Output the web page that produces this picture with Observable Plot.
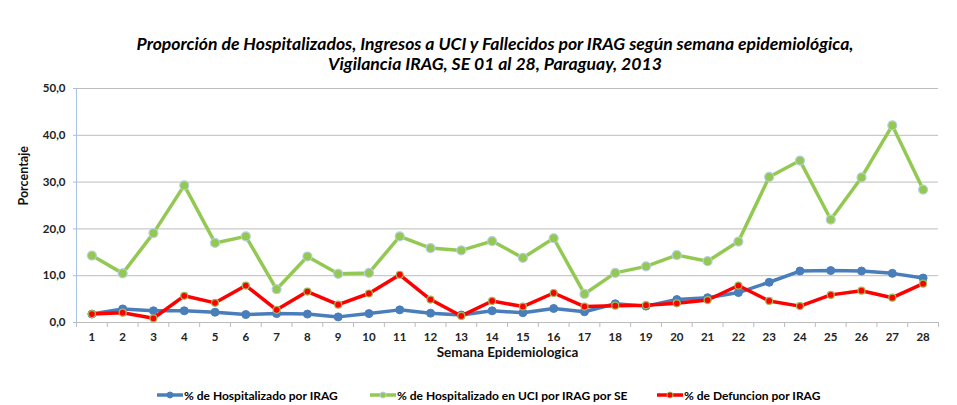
<!DOCTYPE html>
<html>
<head>
<meta charset="utf-8">
<script src="https://cdn.jsdelivr.net/npm/d3@7"></script>
<script src="https://cdn.jsdelivr.net/npm/@observablehq/plot@0.6"></script>
<style>
  html, body { margin: 0; padding: 0; background: #fff; }
  #wrap { position: relative; width: 957px; height: 405px; overflow: hidden; font-family: Lato, "DejaVu Sans", sans-serif; }
  #wrap svg.plot { position: absolute; left: 0; top: 0; }
  #title { position: absolute; left: 0; width: 990px; top: 34px; text-align: center; font-weight: bold; font-style: italic; font-size: 17.6px; line-height: 20px; color: #000; }
  .leg { position: absolute; top: 388px; height: 14px; display: flex; align-items: center; font-weight: bold; font-size: 12px; color: #000; white-space: nowrap; }
  .leg svg { margin-right: 1px; }
</style>
</head>
<body>
<div id="wrap">
  <div id="title">Proporción de Hospitalizados, Ingresos a UCI y Fallecidos por IRAG según semana epidemiológica,<br>Vigilancia IRAG, SE 01 al 28, Paraguay, 2013</div>
</div>
<script>
const weeks = [1,2,3,4,5,6,7,8,9,10,11,12,13,14,15,16,17,18,19,20,21,22,23,24,25,26,27,28];
const hospitalizado = [1.8,2.9,2.5,2.5,2.2,1.7,1.9,1.8,1.2,1.9,2.7,2.0,1.6,2.5,2.1,3.0,2.3,4.0,3.5,4.9,5.3,6.4,8.6,11.0,11.1,11.0,10.5,9.5];
const uci = [14.3,10.5,19.1,29.3,17.0,18.4,7.1,14.1,10.4,10.6,18.4,15.9,15.4,17.4,13.8,18.0,6.1,10.6,12.0,14.4,13.1,17.3,31.1,34.6,22.0,31.0,42.1,28.4];
const defuncion = [1.8,2.1,0.9,5.7,4.2,7.9,2.7,6.6,3.8,6.2,10.2,4.9,1.4,4.6,3.4,6.3,3.4,3.6,3.7,4.1,4.8,7.9,4.6,3.5,5.9,6.8,5.3,8.3];
const yTicks = [0,10,20,30,40,50];
const seriesNames = ["% de Hospitalizado por IRAG", "% de Hospitalizado en UCI por IRAG por SE", "% de Defuncion por IRAG"];
const xTitle = "Semana Epidemiologica";
const yTitle = "Porcentaje";

const colors = { hosp: "#4a7ebb", uci: "#93c952", def: "#ff0000" };
const rows = weeks.map((w, i) => ({ week: w, hosp: hospitalizado[i], uci: uci[i], def: defuncion[i] }));
const boundaries = weeks.map(w => w - 0.5).concat([weeks[weeks.length - 1] + 0.5]);

const chart = Plot.plot({
  width: 957,
  height: 405,
  marginTop: 88,
  marginBottom: 83,
  marginLeft: 76,
  marginRight: 19,
  x: { type: "linear", domain: [boundaries[0], boundaries[boundaries.length - 1]] },
  y: { domain: [0, 50] },
  style: { fontFamily: "Lato, 'DejaVu Sans', sans-serif", fontSize: "11px", fontWeight: "bold", color: "#000", background: "transparent", overflow: "visible" },
  marks: [
    Plot.gridY(yTicks, { stroke: "#bcbcbc", strokeOpacity: 1, strokeWidth: 1 }),
    Plot.ruleX([boundaries[0]], { stroke: "#a9c1e0", strokeWidth: 1 }),
    Plot.axisY(yTicks, { tickSize: 3, tickPadding: 8, stroke: "#a9c1e0", tickFormat: d => d.toFixed(1).replace(".", ","), label: null, fontSize: 11.5, fontWeight: "bold", fill: "#222" }),
    Plot.axisX(boundaries, { tickSize: 5, stroke: "#bcbcbc", tickFormat: () => "", label: null }),
    Plot.axisX(weeks, { tickSize: 0, tickPadding: 10, label: null, fontSize: 11.5, fontWeight: "bold", fill: "#222" }),
    Plot.text([xTitle], { frameAnchor: "bottom", dy: 34, fontSize: 13.5, fontWeight: "bold", fill: "#111" }),
    Plot.text([yTitle], { frameAnchor: "left", rotate: -90, dx: -53, fontSize: 12.5, fontWeight: "bold", fill: "#111" }),
    Plot.line(rows, { x: "week", y: "hosp", stroke: colors.hosp, strokeWidth: 3.5 }),
    Plot.dot(rows, { x: "week", y: "hosp", r: 4, fill: colors.hosp, stroke: colors.hosp, strokeWidth: 1 }),
    Plot.line(rows, { x: "week", y: "uci", stroke: colors.uci, strokeWidth: 3.5 }),
    Plot.dot(rows, { x: "week", y: "uci", r: 4.5, fill: colors.uci, stroke: "#b9cde5", strokeWidth: 1.2 }),
    Plot.line(rows, { x: "week", y: "def", stroke: colors.def, strokeWidth: 3.5 }),
    Plot.dot(rows, { x: "week", y: "def", r: 3.5, fill: colors.def, stroke: "#9bbb59", strokeWidth: 1.2 })
  ]
});
chart.classList.add("plot");
const wrap = document.getElementById("wrap");
wrap.insertBefore(chart, wrap.firstChild);

const legendItems = [
  { name: seriesNames[0], color: colors.hosp, mfill: colors.hosp, mstroke: colors.hosp, left: 157 },
  { name: seriesNames[1], color: colors.uci, mfill: colors.uci, mstroke: "#b9cde5", left: 370 },
  { name: seriesNames[2], color: colors.def, mfill: colors.def, mstroke: "#9bbb59", left: 657 }
];
legendItems.forEach(it => {
  const d = document.createElement("div");
  d.className = "leg";
  d.style.left = it.left + "px";
  d.innerHTML = `<svg width="26" height="10"><line x1="0" y1="5" x2="26" y2="5" stroke="${it.color}" stroke-width="3.5"/><circle cx="13" cy="5" r="3" fill="${it.mfill}" stroke="${it.mstroke}" stroke-width="1"/></svg><span>${it.name}</span>`;
  wrap.appendChild(d);
});
</script>
</body>
</html>
